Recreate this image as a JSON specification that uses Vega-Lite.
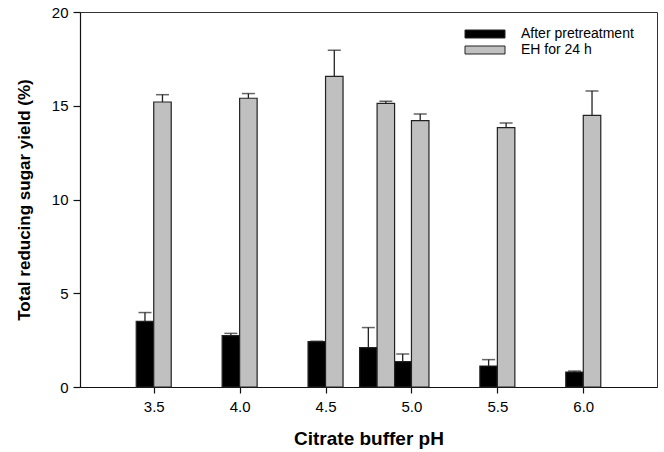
{
  "$schema": "https://vega.github.io/schema/vega-lite/v6.json",
  "width": 577,
  "height": 375,
  "autosize": {"type": "none"},
  "padding": {"left": 80, "top": 12, "right": 7, "bottom": 65},
  "background": "white",
  "config": {
    "view": {"stroke": "#333", "strokeWidth": 1},
    "font": "Liberation Sans",
    "axis": {
      "domainColor": "#111", "domainWidth": 1.2,
      "tickColor": "#111", "tickWidth": 1.2, "tickSize": 6,
      "labelFont": "Liberation Sans", "labelFontSize": 15, "labelColor": "#000",
      "titleFont": "Liberation Sans", "titleFontSize": 17, "titleFontWeight": "bold", "titleColor": "#000",
      "grid": false
    },
    "legend": {"labelFont": "Liberation Sans", "labelFontSize": 14, "labelColor": "#000"}
  },
  "data": {
    "values": [
      {"ph": 3.5, "series": "After pretreatment", "value": 3.50, "upper": 3.97},
      {"ph": 4.0, "series": "After pretreatment", "value": 2.74, "upper": 2.86},
      {"ph": 4.5, "series": "After pretreatment", "value": 2.42, "upper": 2.44},
      {"ph": 4.8, "series": "After pretreatment", "value": 2.10, "upper": 3.17},
      {"ph": 5.0, "series": "After pretreatment", "value": 1.35, "upper": 1.76},
      {"ph": 5.5, "series": "After pretreatment", "value": 1.12, "upper": 1.46},
      {"ph": 6.0, "series": "After pretreatment", "value": 0.80, "upper": 0.85},
      {"ph": 3.5, "series": "EH for 24 h", "value": 15.20, "upper": 15.59},
      {"ph": 4.0, "series": "EH for 24 h", "value": 15.40, "upper": 15.65},
      {"ph": 4.5, "series": "EH for 24 h", "value": 16.57, "upper": 17.96},
      {"ph": 4.8, "series": "EH for 24 h", "value": 15.13, "upper": 15.24},
      {"ph": 5.0, "series": "EH for 24 h", "value": 14.21, "upper": 14.56},
      {"ph": 5.5, "series": "EH for 24 h", "value": 13.83, "upper": 14.08},
      {"ph": 6.0, "series": "EH for 24 h", "value": 14.49, "upper": 15.79}
    ]
  },
  "encoding": {
    "x": {
      "field": "ph", "type": "quantitative",
      "scale": {"domain": [3.1, 6.4], "nice": false, "zero": false},
      "axis": {"values": [3.5, 4.0, 4.5, 5.0, 5.5, 6.0], "format": ".1f", "title": "Citrate buffer pH", "labelPadding": 6, "titlePadding": 15, "titleFontSize": 19}
    }
  },
  "layer": [
    {
      "transform": [{"filter": "datum.series == 'After pretreatment'"}],
      "mark": {"type": "rule", "xOffset": -8.75, "color": "#222", "strokeWidth": 1.3},
      "encoding": {"y": {"field": "value", "type": "quantitative"}, "y2": {"field": "upper"}}
    },
    {
      "transform": [{"filter": "datum.series == 'After pretreatment'"}],
      "mark": {"type": "tick", "orient": "horizontal", "size": 13, "thickness": 1.5, "xOffset": -8.75, "color": "#222"},
      "encoding": {"y": {"field": "upper", "type": "quantitative"}}
    },
    {
      "transform": [{"filter": "datum.series == 'EH for 24 h'"}],
      "mark": {"type": "rule", "xOffset": 8.75, "color": "#222", "strokeWidth": 1.3},
      "encoding": {"y": {"field": "value", "type": "quantitative"}, "y2": {"field": "upper"}}
    },
    {
      "transform": [{"filter": "datum.series == 'EH for 24 h'"}],
      "mark": {"type": "tick", "orient": "horizontal", "size": 13, "thickness": 1.5, "xOffset": 8.75, "color": "#222"},
      "encoding": {"y": {"field": "upper", "type": "quantitative"}}
    },
    {
      "transform": [{"filter": "datum.series == 'After pretreatment'"}],
      "mark": {"type": "bar", "width": 17.5, "xOffset": -8.75, "stroke": "#222", "strokeWidth": 1.2},
      "encoding": {
        "y": {"field": "value", "type": "quantitative"},
        "color": {"field": "series", "type": "nominal"}
      }
    },
    {
      "transform": [{"filter": "datum.series == 'EH for 24 h'"}],
      "mark": {"type": "bar", "width": 17.5, "xOffset": 8.75, "stroke": "#222", "strokeWidth": 1.2},
      "encoding": {
        "y": {
          "field": "value", "type": "quantitative",
          "scale": {"domain": [0, 20], "nice": false},
          "axis": {"values": [0, 5, 10, 15, 20], "title": "Total reducing sugar yield (%)", "labelPadding": 5, "titlePadding": 18, "tickSize": 7}
        },
        "color": {
          "field": "series", "type": "nominal",
          "scale": {"domain": ["After pretreatment", "EH for 24 h"], "range": ["#000000", "#c0c0c0"]},
          "legend": {
            "title": null, "orient": "none", "legendX": 398, "legendY": 15,
            "symbolType": "M-4,-0.8H4V0.8H-4Z", "symbolSize": 100,
            "symbolStrokeColor": "#222", "symbolStrokeWidth": 1,
            "labelOffset": 29, "labelFontSize": 14, "rowPadding": 2, "padding": 0
          }
        }
      }
    }
  ]
}
